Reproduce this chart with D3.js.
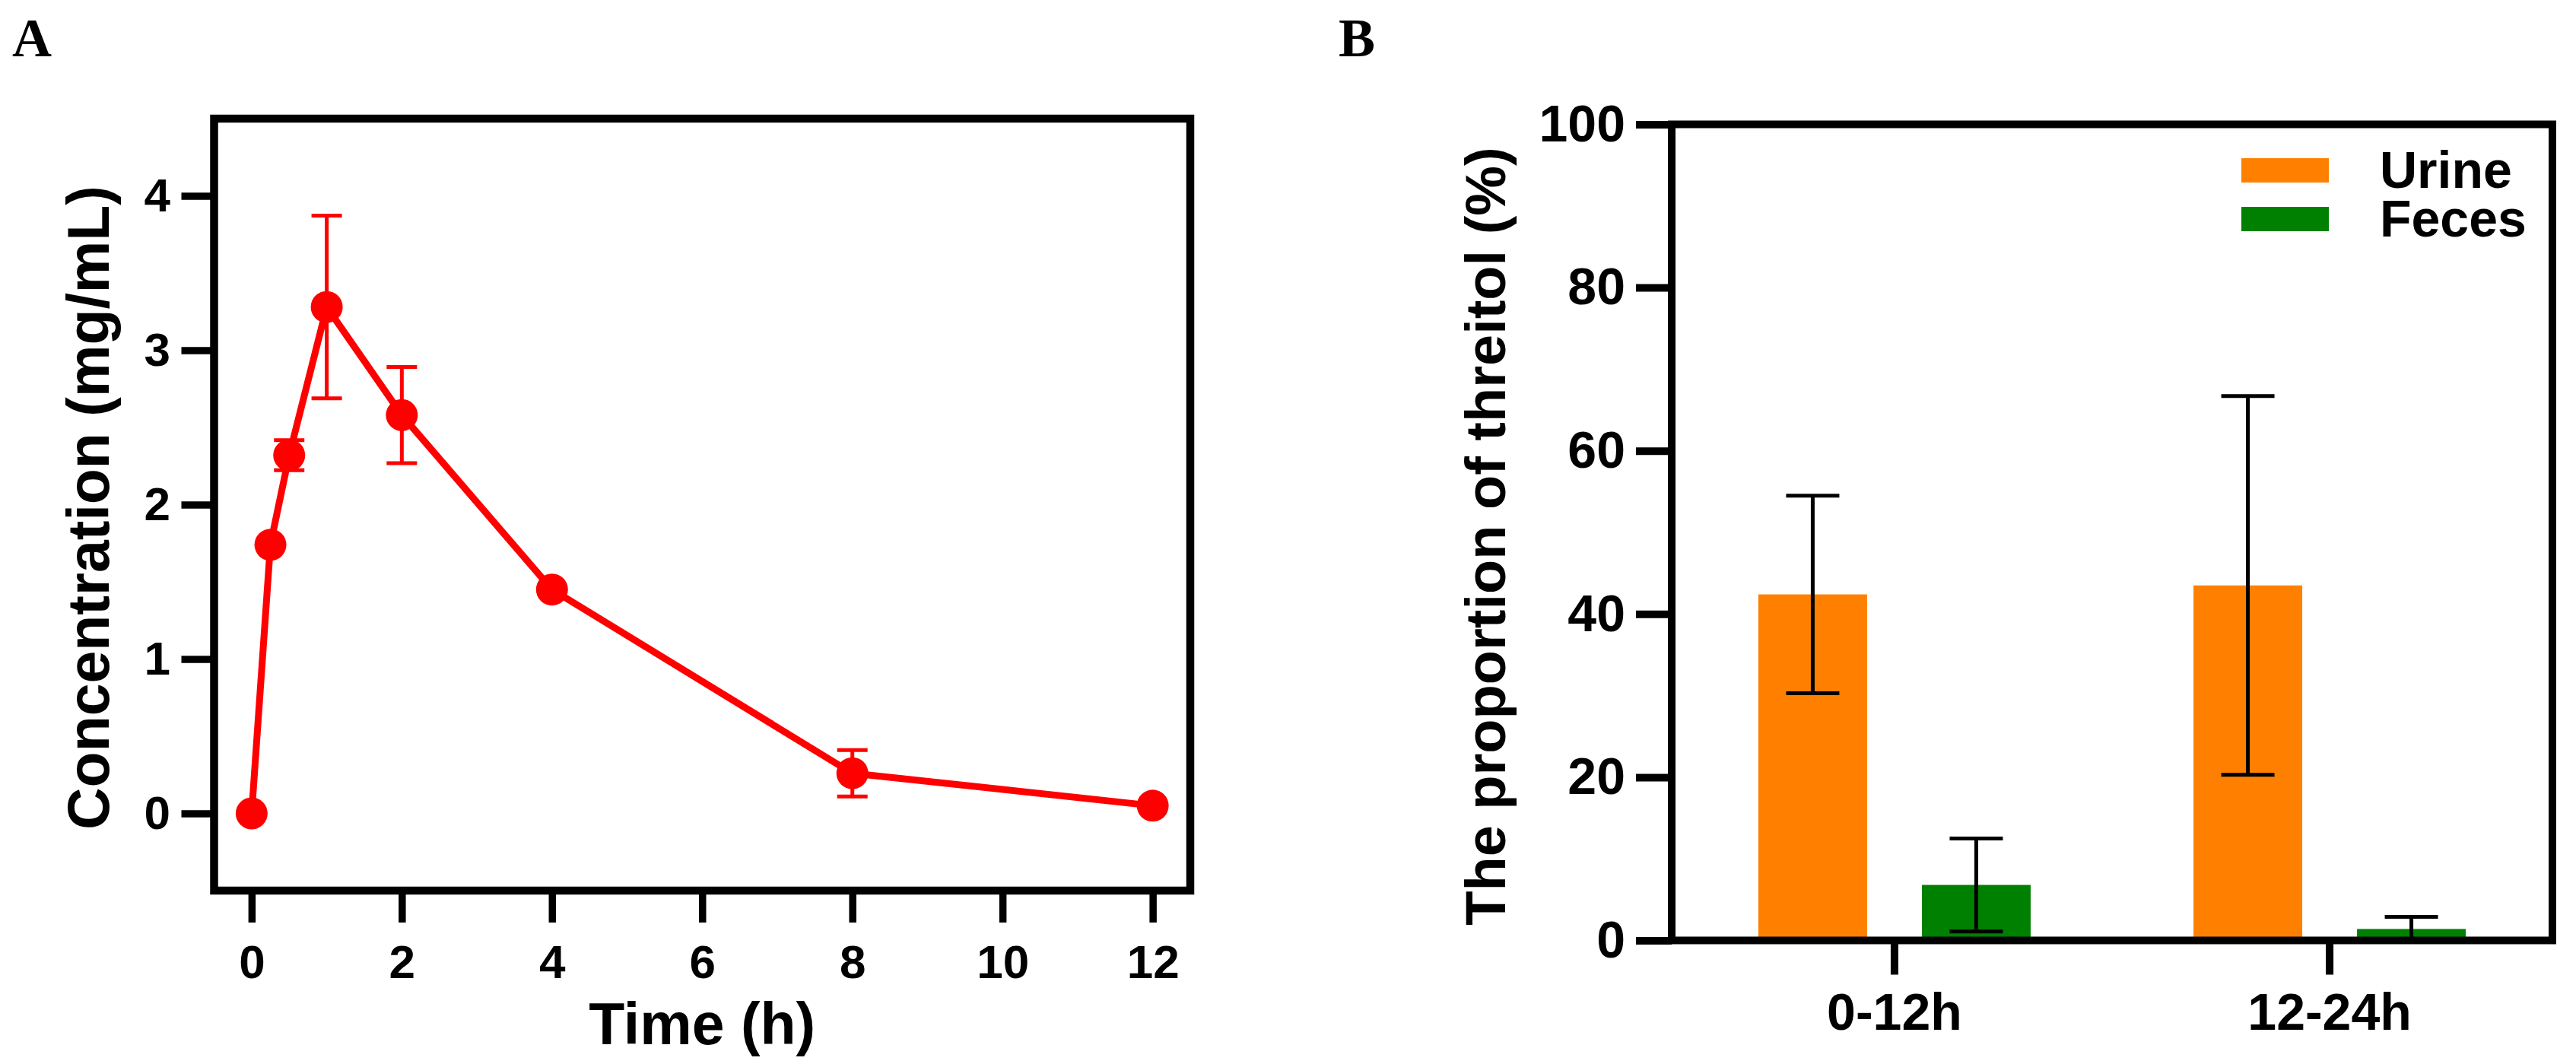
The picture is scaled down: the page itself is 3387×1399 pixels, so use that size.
<!DOCTYPE html>
<html lang="en">
<head>
    <meta charset="UTF-8">
    <title>Threitol pharmacokinetics and excretion</title>
    <script src="https://d3js.org/d3.v7.min.js"></script>
    <style>
        body {
            margin: 0;
            background: #ffffff;
        }
        svg text {
            font-family: "Liberation Sans", Arial, sans-serif;
            font-weight: bold;
            fill: #000;
        }
        .panel-label {
            font-family: "Liberation Serif", "Times New Roman", serif !important;
        }
        .axis path { display: none; }
        .axis line { stroke: #000; }
    </style>
</head>
<body>
    <div id="chart"></div>

    <script>
        // Panel A: plasma concentration over time (mean, SD)
        const timePoints = [0, 0.25, 0.5, 1, 2, 4, 8, 12];
        const concMean = [0, 1.74, 2.32, 3.28, 2.58, 1.45, 0.26, 0.05];
        const concSD = [0, 0, 0.097, 0.592, 0.312, 0, 0.15, 0];
        const timeTicks = [0, 2, 4, 6, 8, 10, 12];
        const concTicks = [0, 1, 2, 3, 4];

        // Panel B: proportion excreted (mean, SD)
        const periods = ["0-12h", "12-24h"];
        const sources = ["Urine", "Feces"];
        const urineMean = [42.4, 43.5];
        const urineSD = [12.1, 23.2];
        const fecesMean = [6.8, 1.4];
        const fecesSD = [5.7, 1.5];
        const percentTicks = [0, 20, 40, 60, 80, 100];

        const width = 3387;
        const height = 1399;

        const svg = d3.select("#chart")
            .append("svg")
            .attr("width", width)
            .attr("height", height)
            .attr("viewBox", [0, 0, width, height]);

        // ---------- Panel A ----------
        const a = { left: 281.5, right: 1565, top: 156, bottom: 1171 };

        const x = d3.scaleLinear().domain([-0.5, 12.5]).range([a.left, a.right]);
        const y = d3.scaleLinear().domain([-0.5, 4.5]).range([a.bottom, a.top]);

        const gA = svg.append("g");

        gA.append("text")
            .attr("class", "panel-label")
            .attr("x", 16)
            .attr("y", 74)
            .style("font-size", "72px")
            .text("A");

        const concData = timePoints.map((t, i) => ({ t: t, m: concMean[i], sd: concSD[i] }));

        // error bars
        const errA = gA.append("g")
            .attr("stroke", "#ff0000")
            .attr("stroke-width", 5);
        concData.filter(d => d.sd > 0).forEach(d => {
            const cx = x(d.t);
            errA.append("line")
                .attr("x1", cx).attr("x2", cx)
                .attr("y1", y(d.m + d.sd)).attr("y2", y(d.m - d.sd));
            [d.m + d.sd, d.m - d.sd].forEach(v => {
                errA.append("line")
                    .attr("x1", cx - 20).attr("x2", cx + 20)
                    .attr("y1", y(v)).attr("y2", y(v));
            });
        });

        const line = d3.line()
            .x(d => x(d.t))
            .y(d => y(d.m));

        gA.append("path")
            .datum(concData)
            .attr("d", line)
            .attr("fill", "none")
            .attr("stroke", "#ff0000")
            .attr("stroke-width", 9)
            .attr("stroke-linejoin", "round");

        gA.selectAll("circle")
            .data(concData)
            .enter().append("circle")
            .attr("cx", d => x(d.t))
            .attr("cy", d => y(d.m))
            .attr("r", 21)
            .attr("fill", "#ff0000");

        // frame
        gA.append("rect")
            .attr("x", a.left).attr("y", a.top)
            .attr("width", a.right - a.left)
            .attr("height", a.bottom - a.top)
            .attr("fill", "none")
            .attr("stroke", "#000")
            .attr("stroke-width", 10.5);

        const yAxisA = gA.append("g")
            .attr("class", "axis")
            .attr("transform", `translate(${a.left},0)`)
            .call(d3.axisLeft(y).tickValues(concTicks).tickFormat(d3.format("d"))
                .tickSize(43).tickPadding(14.5));
        yAxisA.selectAll("line").attr("stroke-width", 9.5);
        yAxisA.selectAll("text").style("font-size", "62px");

        const xAxisA = gA.append("g")
            .attr("class", "axis")
            .attr("transform", `translate(0,${a.bottom})`)
            .call(d3.axisBottom(x).tickValues(timeTicks).tickFormat(d3.format("d"))
                .tickSize(42).tickPadding(29));
        xAxisA.selectAll("line").attr("stroke-width", 9.5);
        xAxisA.selectAll("text").style("font-size", "62px");

        gA.append("text")
            .attr("x", (a.left + a.right) / 2)
            .attr("y", 1373)
            .attr("text-anchor", "middle")
            .style("font-size", "77px")
            .text("Time (h)");

        gA.append("text")
            .attr("transform", `translate(143,${(a.top + a.bottom) / 2 + 4}) rotate(-90)`)
            .attr("text-anchor", "middle")
            .style("font-size", "77px")
            .text("Concentration (mg/mL)");

        // ---------- Panel B ----------
        const b = { left: 2198, right: 3356, top: 163.5, bottom: 1236.5 };

        const x0 = d3.scaleBand().domain(periods).range([b.left, b.right]).paddingOuter(0.012);
        const x1 = d3.scaleBand().domain(sources).range([-179, 179]).paddingInner(0.335);
        const yB = d3.scaleLinear().domain([0, 100]).range([b.bottom, b.top]);
        const color = d3.scaleOrdinal().domain(sources).range(["#ff8000", "#008000"]);

        const gB = svg.append("g");

        gB.append("text")
            .attr("class", "panel-label")
            .attr("x", 1760)
            .attr("y", 74)
            .style("font-size", "72px")
            .text("B");

        const barData = [];
        periods.forEach((p, i) => {
            barData.push({ period: p, source: "Urine", m: urineMean[i], sd: urineSD[i] });
            barData.push({ period: p, source: "Feces", m: fecesMean[i], sd: fecesSD[i] });
        });
        const barX = d => x0(d.period) + x0.bandwidth() / 2 + x1(d.source);

        gB.selectAll("rect.bar")
            .data(barData)
            .enter().append("rect")
            .attr("class", "bar")
            .attr("x", barX)
            .attr("y", d => yB(d.m))
            .attr("width", x1.bandwidth())
            .attr("height", d => yB(0) - yB(d.m))
            .attr("fill", d => color(d.source));

        const errB = gB.append("g")
            .attr("stroke", "#000")
            .attr("stroke-width", 5);
        barData.forEach(d => {
            const cx = barX(d) + x1.bandwidth() / 2;
            const lo = Math.max(0, d.m - d.sd);
            errB.append("line")
                .attr("x1", cx).attr("x2", cx)
                .attr("y1", yB(d.m + d.sd)).attr("y2", yB(lo));
            [d.m + d.sd, lo].forEach(v => {
                errB.append("line")
                    .attr("x1", cx - 35).attr("x2", cx + 35)
                    .attr("y1", yB(v)).attr("y2", yB(v));
            });
        });

        gB.append("rect")
            .attr("x", b.left).attr("y", b.top)
            .attr("width", b.right - b.left)
            .attr("height", b.bottom - b.top)
            .attr("fill", "none")
            .attr("stroke", "#000")
            .attr("stroke-width", 10);

        const yAxisB = gB.append("g")
            .attr("class", "axis")
            .attr("transform", `translate(${b.left},0)`)
            .call(d3.axisLeft(yB).tickValues(percentTicks).tickSize(47).tickPadding(14));
        yAxisB.selectAll("line").attr("stroke-width", 10);
        yAxisB.selectAll("text").style("font-size", "68px");

        const xAxisB = gB.append("g")
            .attr("class", "axis")
            .attr("transform", `translate(0,${b.bottom})`)
            .call(d3.axisBottom(x0).tickSize(45).tickPadding(24.5));
        xAxisB.selectAll("line").attr("stroke-width", 10);
        xAxisB.selectAll("text").style("font-size", "68px");

        gB.append("text")
            .attr("transform", `translate(1979,${(b.top + b.bottom) / 2 + 5}) rotate(-90)`)
            .attr("text-anchor", "middle")
            .style("font-size", "74px")
            .text("The proportion of threitol (%)");

        // legend
        const legend = gB.append("g");
        sources.forEach((s, i) => {
            legend.append("rect")
                .attr("x", 2947)
                .attr("y", 208 + i * 64)
                .attr("width", 115)
                .attr("height", 32)
                .attr("fill", color(s));
            legend.append("text")
                .attr("x", 3129)
                .attr("y", 247 + i * 64)
                .style("font-size", "68px")
                .text(s);
        });
    </script>
</body>
</html>
